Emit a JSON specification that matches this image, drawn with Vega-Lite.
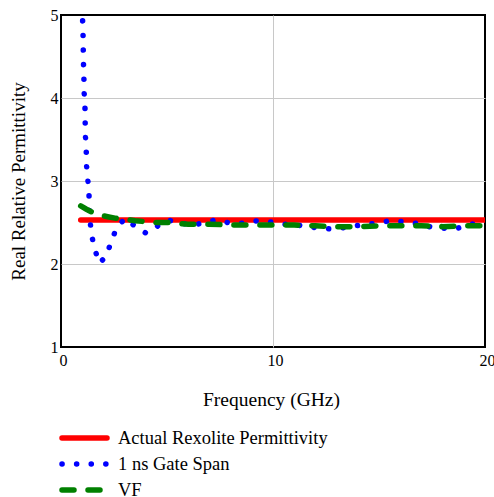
{
  "$schema": "https://vega.github.io/schema/vega-lite/v6.json",
  "width": 424,
  "height": 332,
  "autosize": {"type": "none"},
  "padding": {"left": 61, "top": 15, "right": 9, "bottom": 150},
  "background": "white",
  "config": {
    "view": {"stroke": "black", "strokeWidth": 2}
  },
  "data": {
    "values": [
      {"series": "Actual Rexolite Permittivity", "x": 0.93, "y": 2.53},
      {"series": "Actual Rexolite Permittivity", "x": 20, "y": 2.53},
      {"series": "1 ns Gate Span", "x": 1.02, "y": 4.93},
      {"series": "1 ns Gate Span", "x": 1.04, "y": 4.76},
      {"series": "1 ns Gate Span", "x": 1.05, "y": 4.59},
      {"series": "1 ns Gate Span", "x": 1.06, "y": 4.42},
      {"series": "1 ns Gate Span", "x": 1.08, "y": 4.25},
      {"series": "1 ns Gate Span", "x": 1.09, "y": 4.07},
      {"series": "1 ns Gate Span", "x": 1.13, "y": 3.9},
      {"series": "1 ns Gate Span", "x": 1.14, "y": 3.72},
      {"series": "1 ns Gate Span", "x": 1.15, "y": 3.55},
      {"series": "1 ns Gate Span", "x": 1.19, "y": 3.38},
      {"series": "1 ns Gate Span", "x": 1.2, "y": 3.2},
      {"series": "1 ns Gate Span", "x": 1.26, "y": 3.03},
      {"series": "1 ns Gate Span", "x": 1.32, "y": 2.86},
      {"series": "1 ns Gate Span", "x": 1.33, "y": 2.69},
      {"series": "1 ns Gate Span", "x": 1.37, "y": 2.52},
      {"series": "1 ns Gate Span", "x": 1.45, "y": 2.34},
      {"series": "1 ns Gate Span", "x": 1.59, "y": 2.18},
      {"series": "1 ns Gate Span", "x": 1.81, "y": 2.01},
      {"series": "1 ns Gate Span", "x": 2.12, "y": 2.09},
      {"series": "1 ns Gate Span", "x": 2.36, "y": 2.26},
      {"series": "1 ns Gate Span", "x": 2.61, "y": 2.43},
      {"series": "1 ns Gate Span", "x": 3.02, "y": 2.55},
      {"series": "1 ns Gate Span", "x": 3.47, "y": 2.46},
      {"series": "1 ns Gate Span", "x": 4.02, "y": 2.37},
      {"series": "1 ns Gate Span", "x": 4.51, "y": 2.45},
      {"series": "1 ns Gate Span", "x": 5.01, "y": 2.53},
      {"series": "1 ns Gate Span", "x": 5.61, "y": 2.5},
      {"series": "1 ns Gate Span", "x": 6.18, "y": 2.46},
      {"series": "1 ns Gate Span", "x": 6.71, "y": 2.5},
      {"series": "1 ns Gate Span", "x": 7.3, "y": 2.53},
      {"series": "1 ns Gate Span", "x": 7.85, "y": 2.5},
      {"series": "1 ns Gate Span", "x": 8.5, "y": 2.49},
      {"series": "1 ns Gate Span", "x": 9.1, "y": 2.52},
      {"series": "1 ns Gate Span", "x": 9.78, "y": 2.51},
      {"series": "1 ns Gate Span", "x": 10.5, "y": 2.48},
      {"series": "1 ns Gate Span", "x": 11.1, "y": 2.47},
      {"series": "1 ns Gate Span", "x": 11.67, "y": 2.45},
      {"series": "1 ns Gate Span", "x": 12.26, "y": 2.43},
      {"series": "1 ns Gate Span", "x": 12.96, "y": 2.42},
      {"series": "1 ns Gate Span", "x": 13.58, "y": 2.45},
      {"series": "1 ns Gate Span", "x": 14.2, "y": 2.47},
      {"series": "1 ns Gate Span", "x": 14.86, "y": 2.49},
      {"series": "1 ns Gate Span", "x": 15.49, "y": 2.52},
      {"series": "1 ns Gate Span", "x": 16.15, "y": 2.51},
      {"series": "1 ns Gate Span", "x": 16.73, "y": 2.49},
      {"series": "1 ns Gate Span", "x": 17.36, "y": 2.45},
      {"series": "1 ns Gate Span", "x": 17.99, "y": 2.43},
      {"series": "1 ns Gate Span", "x": 18.68, "y": 2.43},
      {"series": "1 ns Gate Span", "x": 19.29, "y": 2.48},
      {"series": "1 ns Gate Span", "x": 19.87, "y": 2.49},
      {"series": "1 ns Gate Span", "x": 20, "y": 2.49},
      {"series": "VF", "x": 0.93, "y": 2.7},
      {"series": "VF", "x": 1.2, "y": 2.66},
      {"series": "VF", "x": 1.5, "y": 2.62},
      {"series": "VF", "x": 1.8, "y": 2.59},
      {"series": "VF", "x": 2.2, "y": 2.57},
      {"series": "VF", "x": 2.6, "y": 2.55},
      {"series": "VF", "x": 3.0, "y": 2.54},
      {"series": "VF", "x": 3.5, "y": 2.52},
      {"series": "VF", "x": 4.0, "y": 2.51},
      {"series": "VF", "x": 4.5, "y": 2.5},
      {"series": "VF", "x": 5.0, "y": 2.5},
      {"series": "VF", "x": 5.5, "y": 2.49},
      {"series": "VF", "x": 6.0, "y": 2.48},
      {"series": "VF", "x": 7.0, "y": 2.48},
      {"series": "VF", "x": 8.0, "y": 2.47},
      {"series": "VF", "x": 9.0, "y": 2.47},
      {"series": "VF", "x": 10.0, "y": 2.47},
      {"series": "VF", "x": 11.0, "y": 2.47},
      {"series": "VF", "x": 12.0, "y": 2.46},
      {"series": "VF", "x": 13.0, "y": 2.45},
      {"series": "VF", "x": 14.0, "y": 2.45},
      {"series": "VF", "x": 15.0, "y": 2.46},
      {"series": "VF", "x": 16.0, "y": 2.46},
      {"series": "VF", "x": 17.0, "y": 2.46},
      {"series": "VF", "x": 18.0, "y": 2.45},
      {"series": "VF", "x": 19.0, "y": 2.46},
      {"series": "VF", "x": 20.0, "y": 2.46}
    ]
  },
  "encoding": {
    "x": {
      "field": "x",
      "type": "quantitative",
      "scale": {"domain": [0, 20], "nice": false, "zero": false},
      "axis": {
        "values": [0, 10, 20],
        "grid": true,
        "gridColor": {"condition": {"test": "datum.value > 0 && datum.value < 20", "value": "#c8c8c8"}, "value": "transparent"},
        "gridWidth": 1,
        "ticks": false,
        "tickSize": 0,
        "domain": false,
        "labelFont": "Times",
        "labelFontSize": 16,
        "labelColor": "black",
        "labelPadding": 5,
        "labelFlush": false,
        "labelOverlap": false,
        "labelBaseline": "top",
        "labelAlign": "center",
        "labelOffset": 2,
        "title": "Frequency (GHz)",
        "titleFont": "Times",
        "titleFontSize": 19.5,
        "titleFontWeight": "normal",
        "titleColor": "black",
        "titleX": 210,
        "titleY": 58,
        "titleBaseline": "alphabetic",
        "titleAlign": "center"
      }
    },
    "y": {
      "field": "y",
      "type": "quantitative",
      "scale": {"domain": [1, 5], "nice": false, "zero": false},
      "axis": {
        "values": [1, 2, 3, 4, 5],
        "grid": true,
        "gridColor": {"condition": {"test": "datum.value > 1 && datum.value < 5", "value": "#c8c8c8"}, "value": "transparent"},
        "gridWidth": 1,
        "ticks": false,
        "tickSize": 0,
        "domain": false,
        "labelFont": "Times",
        "labelFontSize": 16,
        "labelColor": "black",
        "labelPadding": 3,
        "labelFlush": false,
        "labelOverlap": false,
        "labelBaseline": "middle",
        "title": "Real Relative Permittivity",
        "titleFont": "Times",
        "titleFontSize": 19,
        "titleFontWeight": "normal",
        "titleColor": "black",
        "titleAngle": -90,
        "titleX": -43,
        "titleY": 166,
        "titleBaseline": "middle",
        "titleAlign": "center"
      }
    },
    "color": {
      "field": "series",
      "type": "nominal",
      "scale": {
        "domain": ["Actual Rexolite Permittivity", "1 ns Gate Span", "VF"],
        "range": ["#ff0000", "#0000ff", "#008000"]
      },
      "legend": {
        "orient": "none",
        "legendX": -2,
        "legendY": 410,
        "title": null,
        "padding": 0,
        "symbolType": "stroke",
        "symbolSize": 2025,
        "symbolStrokeWidth": 5.5,
        "clipHeight": 26,
        "rowPadding": 0,
        "labelOffset": 8,
        "labelFont": "Times",
        "labelFontSize": 18.5,
        "labelColor": "black",
        "labelLimit": 400,
        "encode": {"symbols": {"update": {"strokeCap": {"value": "round"}}}}
      }
    },
    "strokeDash": {
      "field": "series",
      "type": "nominal",
      "scale": {
        "domain": ["Actual Rexolite Permittivity", "1 ns Gate Span", "VF"],
        "range": [[1, 0], [0.1, 14.5], [12, 14]]
      }
    }
  },
  "layer": [
    {
      "transform": [{"filter": "datum.series === 'Actual Rexolite Permittivity'"}],
      "mark": {"type": "line", "strokeWidth": 5.5, "strokeCap": "round", "clip": true}
    },
    {
      "transform": [{"filter": "datum.series === '1 ns Gate Span'"}],
      "mark": {"type": "line", "strokeWidth": 5.5, "strokeCap": "round", "clip": true}
    },
    {
      "transform": [{"filter": "datum.series === 'VF'"}],
      "mark": {"type": "line", "strokeWidth": 5.5, "strokeCap": "round", "clip": true}
    }
  ]
}
